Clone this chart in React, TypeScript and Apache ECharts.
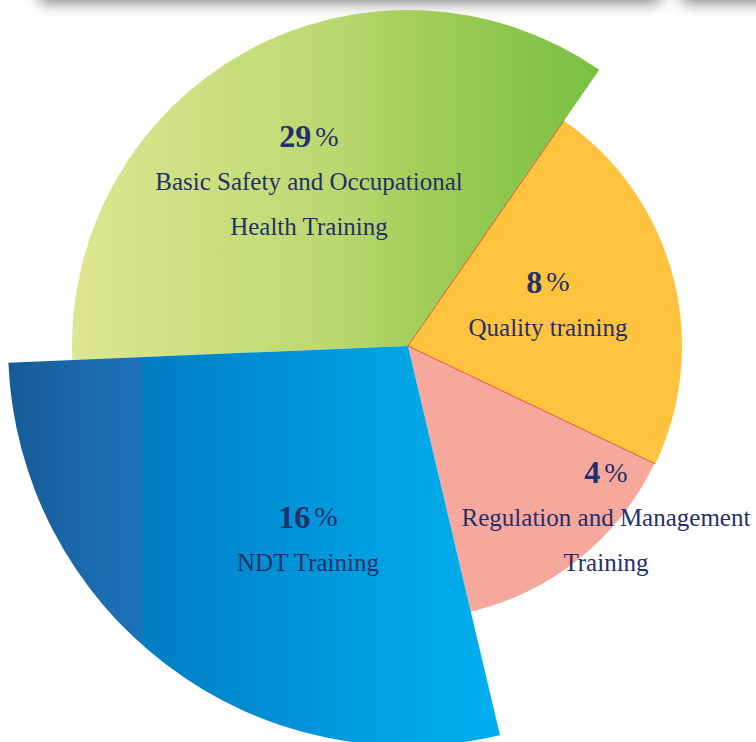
import React, { useEffect, useRef } from 'react';
import * as echarts from 'echarts';

// ---- data ----
const CATEGORIES = [
  'Basic Safety and Occupational\nHealth Training',
  'Quality training',
  'Regulation and Management\nTraining',
  'NDT Training',
];
const PERCENTS = [29, 8, 4, 16];
// sector geometry of this infographic rose chart (degrees, counter-clockwise from east)
const START_ANGLES = [182.4, 55.3, 334.5, 283.3];
const SPANS = [127.1, 80.8, 51.2, 100.9];
const RADII = [336, 274, 273, 400];

// ---- layout / style ----
const CENTER: [number, number] = [408, 346];
const LABEL_XY = [
  [309, 181],
  [548, 304],
  [606, 517],
  [308, 539],
];
const TEXT_COLOR = '#25306a';
const FONT = "'Liberation Serif', 'Times New Roman', serif";

function fills() {
  return [
    new echarts.graphic.LinearGradient(0, 0, 1, 0, [
      { offset: 0, color: '#dde791' },
      { offset: 0.5, color: '#bad870' },
      { offset: 0.68, color: '#a0cc57' },
      { offset: 1, color: '#78c142' },
    ]),
    '#ffc33f',
    '#f7a89c',
    new echarts.graphic.LinearGradient(0, 0, 1, 0, [
      { offset: 0, color: '#175b96' },
      { offset: 0.22, color: '#1c6fb5' },
      { offset: 0.27, color: '#1b73b9' },
      { offset: 0.275, color: '#007dc3' },
      { offset: 0.6, color: '#0094d9' },
      { offset: 0.82, color: '#00a6e5' },
      { offset: 1, color: '#00aeef' },
    ]),
  ];
}

export default function App() {
  const ref = useRef<HTMLDivElement>(null);

  useEffect(() => {
    if (!ref.current) return;
    const chart = echarts.init(ref.current, null, { renderer: 'svg' });
    const colors = fills();

    const series = CATEGORIES.map((name, i) => {
      const lines = name.split('\n').map((l) => `{t|${l}}`).join('\n');
      return {
        type: 'pie',
        name,
        center: CENTER,
        radius: [0, RADII[i]],
        startAngle: START_ANGLES[i],
        clockwise: true,
        avoidLabelOverlap: false,
        silent: true,
        animation: false,
        labelLine: { show: false },
        labelLayout: () => ({
          x: LABEL_XY[i][0],
          y: LABEL_XY[i][1],
          align: 'center',
          verticalAlign: 'middle',
        }),
        data: [
          {
            name,
            value: SPANS[i],
            itemStyle: { color: colors[i] },
            label: {
              show: true,
              position: 'inside',
              formatter: `{p|${PERCENTS[i]}}{s|%}\n${lines}`,
              rich: {
                p: {
                  fontSize: 32,
                  fontWeight: 'bold',
                  color: TEXT_COLOR,
                  fontFamily: FONT,
                  lineHeight: 46,
                },
                s: {
                  fontSize: 28,
                  color: TEXT_COLOR,
                  fontFamily: FONT,
                  lineHeight: 46,
                  padding: [0, 0, 0, 4],
                },
                t: {
                  fontSize: 25,
                  color: TEXT_COLOR,
                  fontFamily: FONT,
                  lineHeight: 45,
                },
              },
            },
          },
          {
            name: '_rest' + i,
            value: 360 - SPANS[i],
            itemStyle: { color: 'rgba(0,0,0,0)' },
            label: { show: false },
          },
        ],
      };
    });

    // thin red separators on both straight edges of the "Quality training" slice
    const rad = (d: number) => (d * Math.PI) / 180;
    const edgeAngles = [START_ANGLES[1], START_ANGLES[1] - SPANS[1]];
    const sepLines = edgeAngles.map((a) => ({
      type: 'line',
      z: 10,
      silent: true,
      shape: {
        x1: CENTER[0],
        y1: CENTER[1],
        x2: CENTER[0] + RADII[1] * Math.cos(rad(a)),
        y2: CENTER[1] - RADII[1] * Math.sin(rad(a)),
      },
      style: { stroke: '#e8492c', lineWidth: 0.9 },
    }));

    const shadowBoxes = [
      [40, 620],
      [683, 200],
    ].map(([x, w]) => ({
      type: 'rect',
      silent: true,
      shape: { x, y: -40, width: w, height: 40 },
      style: {
        fill: '#ffffff',
        shadowBlur: 16,
        shadowOffsetY: 2,
        shadowColor: 'rgba(0,0,0,0.55)',
      },
    }));

    chart.setOption({
      animation: false,
      backgroundColor: '#ffffff',
      series,
      graphic: [...shadowBoxes, ...sepLines],
    });

    return () => chart.dispose();
  }, []);

  return (
    <div
      ref={ref}
      style={{ position: 'absolute', left: 0, top: 0, width: 756, height: 742 }}
    />
  );
}
